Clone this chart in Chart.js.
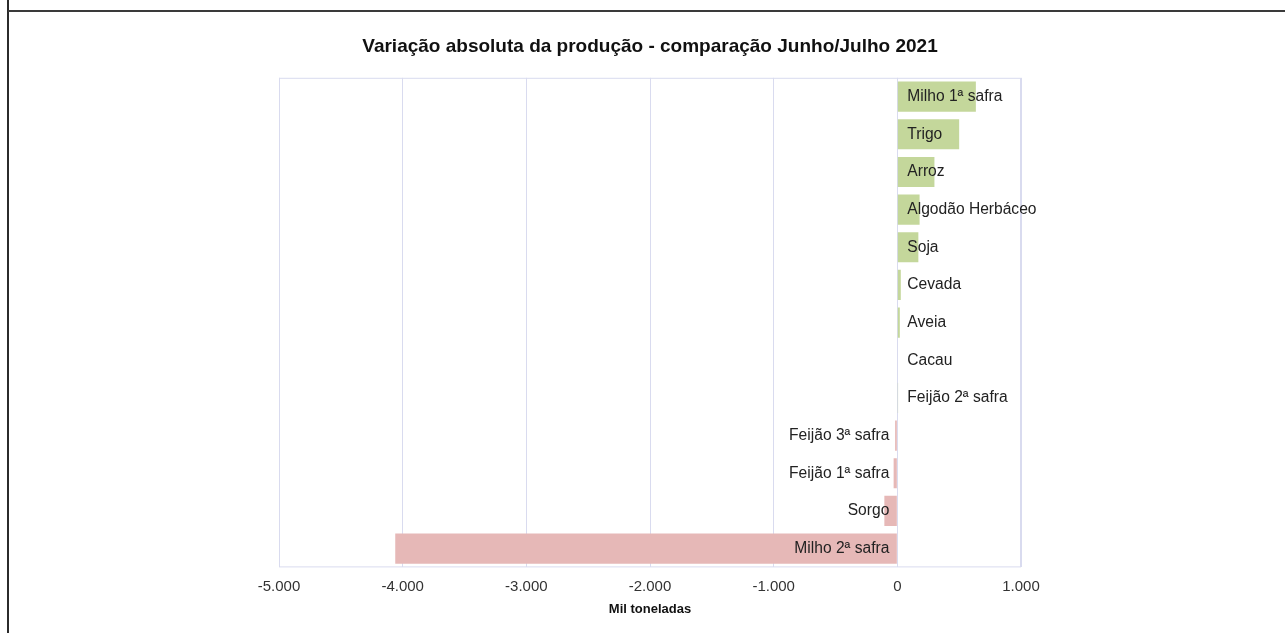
<!DOCTYPE html>
<html>
<head>
<meta charset="utf-8">
<script src="https://cdn.jsdelivr.net/npm/chart.js@4"></script>
<style>
  html, body { margin: 0; padding: 0; background: #fff; }
  #wrap { position: relative; width: 1285px; height: 633px; }
  #linha-v { position: absolute; left: 7px; top: 0; width: 2px; height: 633px; background: #2b2b2b; }
  #linha-h { position: absolute; left: 8px; top: 10px; width: 1277px; height: 2px; background: #3a3a3a; }
</style>
</head>
<body>
<div id="wrap">
  <canvas id="grafico" width="1285" height="633"></canvas>
  <div id="linha-v"></div>
  <div id="linha-h"></div>
</div>
<script>
  // dados (mil toneladas)
  const categorias = ['Milho 1ª safra', 'Trigo', 'Arroz', 'Algodão Herbáceo', 'Soja', 'Cevada', 'Aveia',
    'Cacau', 'Feijão 2ª safra', 'Feijão 3ª safra', 'Feijão 1ª safra', 'Sorgo', 'Milho 2ª safra'];
  const variacao = [635, 500, 300, 180, 170, 28, 20, 4, 6, -18, -30, -105, -4060];
  const eixoMin = -5000;
  const eixoMax = 1000;
  const passo = 1000;

  const VERDE = '#c4d79b';
  const ROSA = '#e6b8b7';
  const GRADE = '#d9dbef';

  var fmt = new Intl.NumberFormat('pt-BR');

  // moldura da área do gráfico
  var moldura = {
    id: 'moldura',
    beforeDatasetsDraw(chart) {
      var a = chart.chartArea, ctx = chart.ctx;
      ctx.save();
      ctx.strokeStyle = GRADE;
      ctx.lineWidth = 1;
      ctx.strokeRect(a.left + 0.5, a.top + 0.5, a.right - a.left - 1, a.bottom - a.top - 1);
      ctx.restore();
    }
  };

  // nomes das categorias junto ao zero
  var rotulos = {
    id: 'rotulos',
    afterDatasetsDraw(chart) {
      var ctx = chart.ctx;
      var x0 = chart.scales.x.getPixelForValue(0);
      var meta = chart.getDatasetMeta(0);
      ctx.save();
      ctx.font = '15.6px Arial, "Liberation Sans", sans-serif';
      ctx.fillStyle = '#222';
      ctx.textBaseline = 'middle';
      meta.data.forEach(function (bar, i) {
        if (variacao[i] >= 0) {
          ctx.textAlign = 'left';
          ctx.fillText(categorias[i], x0 + 10, bar.y);
        } else {
          ctx.textAlign = 'right';
          ctx.fillText(categorias[i], x0 - 8, bar.y);
        }
      });
      ctx.restore();
    }
  };

  new Chart(document.getElementById('grafico'), {
    type: 'bar',
    data: {
      labels: categorias,
      datasets: [{
        data: variacao,
        backgroundColor: variacao.map(v => v >= 0 ? VERDE : ROSA),
        borderWidth: 0,
        barPercentage: 0.8,
        categoryPercentage: 1
      }]
    },
    options: {
      indexAxis: 'y',
      responsive: false,
      animation: false,
      layout: { padding: { left: 279, right: 264, top: 0, bottom: 16 } },
      scales: {
        x: {
          min: eixoMin,
          max: eixoMax,
          ticks: {
            stepSize: passo,
            padding: 10,
            color: '#333',
            font: { family: 'Arial, "Liberation Sans", sans-serif', size: 15 },
            callback: v => fmt.format(v)
          },
          grid: { color: GRADE, drawTicks: false },
          border: { display: false },
          title: {
            display: true,
            text: 'Mil toneladas',
            color: '#111',
            font: { family: 'Arial, "Liberation Sans", sans-serif', size: 13, weight: 'bold' },
            padding: { top: -4, bottom: 0 }
          }
        },
        y: { display: false }
      },
      plugins: {
        legend: { display: false },
        tooltip: { enabled: false },
        title: {
          display: true,
          text: 'Variação absoluta da produção - comparação Junho/Julho 2021',
          color: '#111',
          font: { family: 'Arial, "Liberation Sans", sans-serif', size: 19, weight: 'bold' },
          padding: { top: 35, bottom: 20 }
        }
      }
    },
    plugins: [moldura, rotulos]
  });
</script>
</body>
</html>
